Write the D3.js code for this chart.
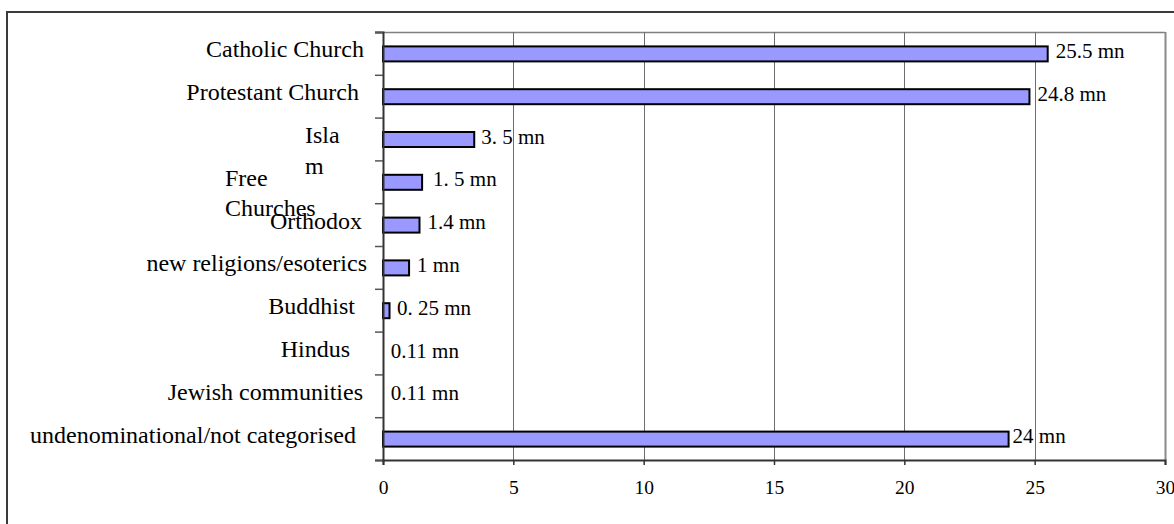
<!DOCTYPE html>
<html>
<head>
<meta charset="utf-8">
<script src="https://cdn.jsdelivr.net/npm/d3@7"></script>
<style>
  html, body { margin: 0; padding: 0; background: #fff; }
  svg { display: block; font-family: "Liberation Serif", "Times New Roman", serif; }
</style>
</head>
<body>
<svg id="chart" width="1174" height="524"></svg>
<script>
// Religious affiliation in Germany (millions of members)
const categories = [
  "Catholic Church", "Protestant Church", "Islam", "Free Churches", "Orthodox",
  "new religions/esoterics", "Buddhist", "Hindus", "Jewish communities",
  "undenominational/not categorised"
];
// bar lengths; null = no bar drawn for that row
const barValues = [25.5, 24.8, 3.5, 1.5, 1.4, 1, 0.25, null, null, 24];
const valueLabels = [
  "25.5 mn", "24.8 mn", "3. 5 mn", "1. 5 mn", "1.4 mn", "1 mn",
  "0. 25 mn", "0.11 mn", "0.11 mn", "24 mn"
];
const labelAnchorValues = [25.5, 24.8, 3.5, 1.5, 1.4, 1, 0.25, 0.11, 0.11, 24];
const xTicks = [0, 5, 10, 15, 20, 25, 30];

// Category label lines as they wrap in their text boxes
const labelLines = [
  ["Catholic Church"], ["Protestant Church"], ["Isla", "m"], ["Free", "Churches"],
  ["Orthodox"], ["new religions/esoterics"], ["Buddhist"], ["Hindus"],
  ["Jewish communities"], ["undenominational/not categorised"]
];

// Layout
const plot = { left: 383, right: 1165, top: 32, bottom: 460 };
// horizontal placement of each category label: [anchor, x]
const labelPlace = [
  ["end", 364], ["end", 359], ["start", 305], ["start", 225], ["end", 362],
  ["end", 367], ["end", 355], ["end", 350], ["end", 363], ["end", 356]
];
const valueDx = [8, 8, 7, 11, 8, 8, 7.5, 5, 5, 4];

const svg = d3.select("#chart");

const x = d3.scaleLinear().domain([0, 30]).range([plot.left, plot.right]);
const y = d3.scaleBand().domain(categories).range([plot.top, plot.bottom]).padding(0);
const rowEdge = d3.scaleLinear().domain([0, categories.length]).range([plot.top, plot.bottom]);

// Outer frame (extends past the visible area on right and bottom)
svg.append("rect")
  .attr("x", 7).attr("y", 12).attr("width", 1300).attr("height", 700)
  .attr("fill", "none").attr("stroke", "#3a3a3a").attr("stroke-width", 2);

// Plot area border (top and right)
svg.append("line")
  .attr("x1", plot.left - 8).attr("x2", plot.right)
  .attr("y1", plot.top + 0.5).attr("y2", plot.top + 0.5)
  .attr("stroke", "#808080").attr("stroke-width", 1.5);

// Vertical gridlines
svg.append("g").selectAll("line")
  .data(xTicks.filter(d => d > 0))
  .join("line")
  .attr("x1", d => Math.round(x(d)) + 0.5).attr("x2", d => Math.round(x(d)) + 0.5)
  .attr("y1", plot.top).attr("y2", plot.bottom)
  .attr("stroke", d => d === 30 ? "#8a8a8a" : "#6e6e6e")
  .attr("stroke-width", d => d === 30 ? 2 : 1);

// Bars
svg.append("g").selectAll("rect")
  .data(categories.map((c, i) => ({ c, v: barValues[i] })).filter(d => d.v != null))
  .join("rect")
  .attr("x", x(0))
  .attr("y", d => y(d.c) + y.bandwidth() / 2 - 7)
  .attr("width", d => x(d.v) - x(0))
  .attr("height", 15)
  .attr("fill", "#9999ff")
  .attr("stroke", "#000")
  .attr("stroke-width", 2);

// Left axis: ticks on row boundaries
const leftAxis = d3.axisLeft(rowEdge)
  .tickValues(d3.range(0, categories.length + 1))
  .tickSize(8)
  .tickFormat("");
const gLeft = svg.append("g").attr("transform", `translate(${plot.left},0)`).call(leftAxis);
gLeft.select(".domain").attr("stroke", "#333").attr("stroke-width", 2);
gLeft.selectAll(".tick line").attr("stroke", "#555").attr("stroke-width", 1.5);

// Bottom axis
const bottomAxis = d3.axisBottom(x).tickValues(xTicks).tickSize(5).tickPadding(15)
  .tickFormat(d3.format("d"));
const gBottom = svg.append("g").attr("transform", `translate(0,${plot.bottom})`).call(bottomAxis);
gBottom.select(".domain").attr("stroke", "#333").attr("stroke-width", 2);
gBottom.selectAll(".tick line").attr("stroke", "#333").attr("stroke-width", 1.5);
gBottom.selectAll(".tick text")
  .attr("font-family", "Liberation Serif, Times New Roman, serif")
  .attr("font-size", 19.5).attr("fill", "#000");

// Category labels
const gLabels = svg.append("g").attr("font-size", 24).attr("fill", "#000");
categories.forEach((c, i) => {
  const base = y(c) + y.bandwidth() / 2 + 4;
  const [anchor, lx] = labelPlace[i];
  const t = gLabels.append("text").attr("text-anchor", anchor);
  labelLines[i].forEach((line, k) => {
    t.append("tspan").attr("x", lx).attr("y", base + k * 30.5).text(line);
  });
});

// Value labels
svg.append("g").attr("font-size", 21).attr("fill", "#000")
  .selectAll("text")
  .data(categories)
  .join("text")
  .attr("x", (c, i) => x(labelAnchorValues[i]) + valueDx[i])
  .attr("y", c => y(c) + y.bandwidth() / 2 + 4.5)
  .text((c, i) => valueLabels[i]);
</script>
</body>
</html>
